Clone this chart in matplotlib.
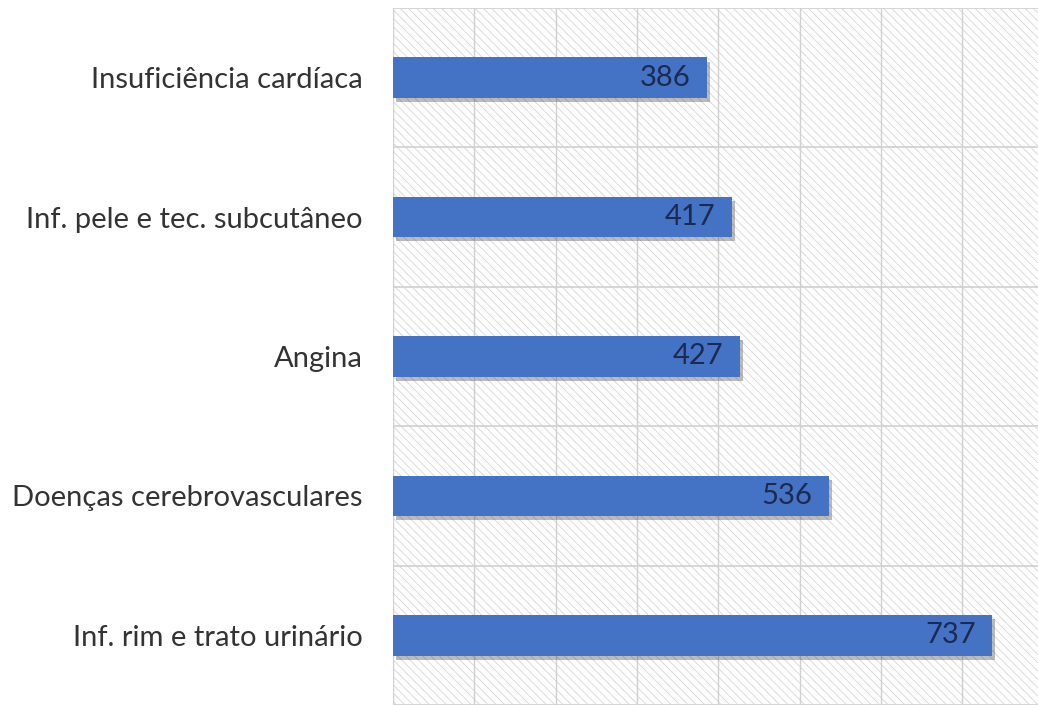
import matplotlib
matplotlib.use("Agg")
import matplotlib.pyplot as plt
import matplotlib.patheffects as pe
from matplotlib.patches import Rectangle

categories = ["Insuficiência cardíaca", "Inf. pele e tec. subcutâneo", "Angina",
              "Doenças cerebrovasculares", "Inf. rim e trato urinário"]
values = [386, 417, 427, 536, 737]

plt.rcParams['font.family'] = ['Lato', 'DejaVu Sans']
plt.rcParams['hatch.color'] = '#d4d4d4'
plt.rcParams['hatch.linewidth'] = 0.6

fig = plt.figure(figsize=(10.38, 7.05), dpi=100)
ax = fig.add_axes([393 / 1038, 0, 1 - 393 / 1038, 1 - 8 / 705])

n = len(categories)
ypos = list(range(n))[::-1]

# hatched background
bg = Rectangle((0, 0), 1, 1, transform=ax.transAxes, facecolor='white',
               edgecolor='#d4d4d4', hatch='\\\\\\\\', linewidth=0, zorder=0)
ax.add_patch(bg)

ax.set_xlim(0, 793)
ax.set_ylim(-0.5, n - 0.5)

for x in range(0, 800, 100):
    ax.axvline(x, color='#d0d0d0', lw=1.0, zorder=1)
for y in [i - 0.5 for i in range(n + 1)]:
    ax.axhline(y, color='#d0d0d0', lw=1.2, zorder=1)

bars = ax.barh(ypos, values, height=0.29, color='#4472C4', zorder=3)
for b in bars:
    b.set_path_effects([pe.SimplePatchShadow(offset=(2, -3), shadow_rgbFace='#555555', alpha=0.4),
                        pe.Normal()])

for y, v in zip(ypos, values):
    ax.annotate(str(v), xy=(v, y), xytext=(-12, 0), textcoords='offset points',
                ha='right', va='center', fontsize=21, color='#1c2a50', zorder=4)

ax.set_yticks(ypos)
ax.set_yticklabels(categories, fontsize=21, color='#333333')
ax.tick_params(axis='y', length=0, pad=22)
ax.set_xticks([])
for s in ax.spines.values():
    s.set_visible(False)

fig.savefig("out.png", dpi=100)
